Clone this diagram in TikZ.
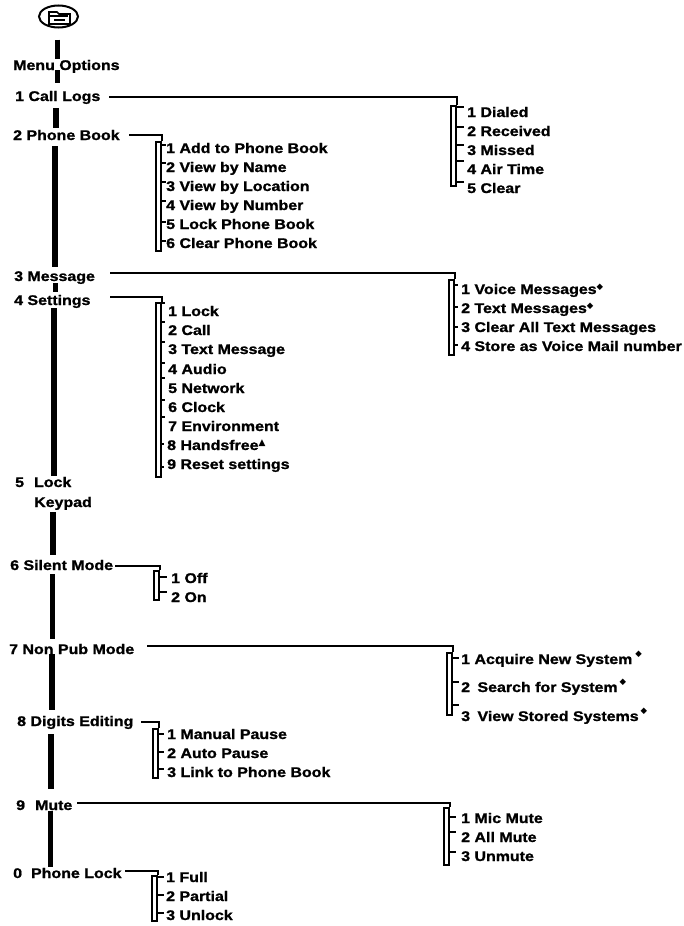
\documentclass[tikz,border=0pt]{standalone}
\usepackage{fontspec}
\usetikzlibrary{shapes.geometric}
\setmainfont{Liberation Sans}[BoldFeatures={FakeStretch=1.14,FakeBold=1.2}]
\newfontfamily\symfont{DejaVu Sans}
\newcommand{\dmark}{\raisebox{5pt}{\symfont\fontsize{8.5}{8.5}\selectfont ◆}}
\newcommand{\tmark}{\raisebox{5pt}{\symfont\fontsize{9}{9}\selectfont ▲}}

\tikzset{
  menuitem/.style={anchor=west, inner sep=0pt, text height=10pt, text depth=0pt,
    font=\bfseries\fontsize{14}{14}\selectfont},
  subbar/.style={draw, fill=white, line width=2pt, anchor=north west, inner sep=0pt, minimum width=5pt},
  spinebar/.style={line width=5.5pt},
  branchline/.style={line width=2pt},
  tickline/.style={line width=1.5pt, shorten >=3pt},
}

\begin{document}
\begin{tikzpicture}[x=1pt, y=-1pt]
  \useasboundingbox (0,0) rectangle (683,926);

  % icon
  \node [draw, ellipse, line width=2pt, minimum width=39pt, minimum height=22pt, inner sep=0pt] (menuicon) at (58.5,16.5) {};
  \draw [line width=1.6pt] (49,24) -- (49,12) -- (57,12) -- (59,14) -- (70,14) -- (70,24) -- cycle;
  \draw [line width=1.2pt] (49,16) -- (68,16);
  \draw [line width=1.4pt] (54,20) -- (65,20);

  % main column
  \node [menuitem] (menu) at (13,65) {Menu Options};
  \node [menuitem] (calllogs) at (15,96) {1 Call Logs};
  \node [menuitem] (phonebook) at (13,135) {2 Phone Book};
  \node [menuitem] (message) at (14,276) {3 Message};
  \node [menuitem] (settings) at (14,300) {4 Settings};
  \node [menuitem] (locklabel) at (15,482) {5\hspace{10pt}Lock};
  \node [menuitem] (keypad) at (34,502) {Keypad};
  \node [menuitem] (silent) at (10,565) {6 Silent Mode};
  \node [menuitem] (nonpub) at (9,649) {7 Non Pub Mode};
  \node [menuitem] (digits) at (17,721) {8 Digits Editing};
  \node [menuitem] (mute) at (16,805) {9\hspace{10pt}Mute};
  \node [menuitem] (phonelock) at (13,873) {0\hspace{9pt}Phone Lock};

  \draw [spinebar] ([xshift=-1,yshift=-11]menuicon.south) -- ([xshift=44.5,yshift=6]menu.west);
  \draw [spinebar] ([xshift=44.5,yshift=-5]menu.west) -- ([xshift=42.5,yshift=13]calllogs.west);
  \draw [spinebar] ([xshift=41,yshift=-12]calllogs.west) -- ([xshift=43,yshift=7]phonebook.west);
  \draw [spinebar] ([xshift=42,yshift=-11]phonebook.west) -- ([xshift=41,yshift=9]message.west);
  \draw [spinebar] ([xshift=41.5,yshift=-7]message.west) -- ([xshift=41.5,yshift=8]settings.west);
  \draw [spinebar] ([xshift=40,yshift=-8]settings.west) -- ([xshift=39,yshift=6]locklabel.west);
  \draw [spinebar] ([xshift=19,yshift=-10]keypad.west) -- ([xshift=43,yshift=10]silent.west);
  \draw [spinebar] ([xshift=42.5,yshift=-9]silent.west) -- ([xshift=43.5,yshift=10]nonpub.west);
  \draw [spinebar] ([xshift=43,yshift=-5]nonpub.west) -- ([xshift=35,yshift=11]digits.west);
  \draw [spinebar] ([xshift=34,yshift=-13]digits.west) -- ([xshift=35,yshift=16]mute.west);
  \draw [spinebar] ([xshift=34.5,yshift=-6]mute.west) -- ([xshift=37.5,yshift=6]phonelock.west);

  % 1 call logs
  \node [subbar, minimum height=80pt] (logsbar) at (450,105) {};
  \node [menuitem] (dialed) at (467,112) {1 Dialed};
  \node [menuitem] (received) at (467,131) {2 Received};
  \node [menuitem] (missed) at (467,150) {3 Missed};
  \node [menuitem] (airtime) at (467,169) {4 Air Time};
  \node [menuitem] (clearlogs) at (467,188) {5 Clear};
  \draw [branchline] ([xshift=94,yshift=-1]calllogs.west) -| (logsbar.north east);
  \draw [tickline] ([yshift=5]dialed.west -| logsbar.east) -- ([yshift=5]dialed.west);
  \draw [tickline] ([yshift=4]received.west -| logsbar.east) -- ([yshift=4]received.west);
  \draw [tickline] ([yshift=5]missed.west -| logsbar.east) -- ([yshift=5]missed.west);
  \draw [tickline] ([yshift=8]airtime.west -| logsbar.east) -- ([yshift=8]airtime.west);
  \draw [tickline] ([yshift=6]clearlogs.west -| logsbar.east) -- ([yshift=6]clearlogs.west);

  % 2 phone book
  \node [subbar, minimum height=109pt] (bookbar) at (155,141) {};
  \node [menuitem] (addbook) at (166,148) {1 Add to Phone Book};
  \node [menuitem] (byname) at (166,167) {2 View by Name};
  \node [menuitem] (bylocation) at (166,186) {3 View by Location};
  \node [menuitem] (bynumber) at (166,205) {4 View by Number};
  \node [menuitem] (lockbook) at (166,224) {5 Lock Phone Book};
  \node [menuitem] (clearbook) at (166,243) {6 Clear Phone Book};
  \draw [branchline] ([xshift=116]phonebook.west) -| (bookbar.north east);
  \draw [tickline, shorten >=0pt] ([yshift=3]addbook.west -| bookbar.east) -- ([yshift=3]addbook.west);
  \draw [tickline, shorten >=0pt] ([yshift=4]byname.west -| bookbar.east) -- ([yshift=4]byname.west);
  \draw [tickline, shorten >=0pt] ([yshift=4]bylocation.west -| bookbar.east) -- ([yshift=4]bylocation.west);
  \draw [tickline, shorten >=0pt] ([yshift=4]bynumber.west -| bookbar.east) -- ([yshift=4]bynumber.west);
  \draw [tickline, shorten >=0pt] ([yshift=2]lockbook.west -| bookbar.east) -- ([yshift=2]lockbook.west);
  \draw [tickline, shorten >=0pt] ([yshift=2]clearbook.west -| bookbar.east) -- ([yshift=2]clearbook.west);

  % 3 message
  \node [subbar, minimum height=75pt] (msgbar) at (448,279) {};
  \node [menuitem] (voicemsg) at (461,289) {1 Voice Messages\dmark};
  \node [menuitem] (textmsg) at (461,308) {2 Text Messages\dmark};
  \node [menuitem] (clearmsg) at (461,327) {3 Clear All Text Messages};
  \node [menuitem] (storemail) at (461,346) {4 Store as Voice Mail number};
  \draw [branchline] ([xshift=96,yshift=3]message.west) -| (msgbar.north east);
  \draw [tickline] ([yshift=4]voicemsg.west -| msgbar.east) -- ([yshift=4]voicemsg.west);
  \draw [tickline] ([yshift=1]textmsg.west -| msgbar.east) -- ([yshift=1]textmsg.west);
  \draw [tickline] (clearmsg.west -| msgbar.east) -- (clearmsg.west);
  \draw [tickline] ([yshift=1]storemail.west -| msgbar.east) -- ([yshift=1]storemail.west);

  % 4 settings
  \node [subbar, minimum height=174pt] (setbar) at (155,302) {};
  \node [menuitem] (setlock) at (168,311) {1 Lock};
  \node [menuitem] (setcall) at (168,330) {2 Call};
  \node [menuitem] (settext) at (168,349) {3 Text Message};
  \node [menuitem] (setaudio) at (168,369) {4 Audio};
  \node [menuitem] (setnet) at (168,388) {5 Network};
  \node [menuitem] (setclock) at (168,407) {6 Clock};
  \node [menuitem] (setenv) at (168,426) {7 Environment};
  \node [menuitem] (sethands) at (167,445) {8 Handsfree\tmark};
  \node [menuitem] (setreset) at (167,464) {9 Reset settings};
  \draw [branchline] ([xshift=96,yshift=3]settings.west) -| (setbar.north east);
  \draw [tickline] ([yshift=8]setlock.west -| setbar.east) -- ([yshift=8]setlock.west);
  \draw [tickline] ([yshift=8]setcall.west -| setbar.east) -- ([yshift=8]setcall.west);
  \draw [tickline] ([yshift=7]settext.west -| setbar.east) -- ([yshift=7]settext.west);
  \draw [tickline] ([yshift=6]setaudio.west -| setbar.east) -- ([yshift=6]setaudio.west);
  \draw [tickline] ([yshift=10]setnet.west -| setbar.east) -- ([yshift=10]setnet.west);
  \draw [tickline] ([yshift=7]setclock.west -| setbar.east) -- ([yshift=7]setclock.west);
  \draw [tickline] ([yshift=9]setenv.west -| setbar.east) -- ([yshift=9]setenv.west);
  \draw [tickline] ([yshift=1]sethands.west -| setbar.east) -- ([yshift=1]sethands.west);
  \draw [tickline] ([yshift=-3]setreset.west -| setbar.east) -- ([yshift=-3]setreset.west);

  % 6 silent mode
  \node [subbar, minimum height=29pt] (silentbar) at (153,570) {};
  \node [menuitem] (silentoff) at (171,578) {1 Off};
  \node [menuitem] (silenton) at (171,597) {2 On};
  \draw [branchline] ([xshift=105,yshift=-1]silent.west) -| (silentbar.north east);
  \draw [tickline, shorten >=4pt] ([yshift=1]silentoff.west -| silentbar.east) -- ([yshift=1]silentoff.west);
  \draw [tickline, shorten >=4pt] ([yshift=5]silenton.west -| silentbar.east) -- ([yshift=5]silenton.west);

  % 7 non pub mode
  \node [subbar, minimum height=62pt] (nonpubbar) at (446,652) {};
  \node [menuitem] (acquire) at (461,659) {1 Acquire New System\hspace{3pt}\raisebox{3pt}{\dmark}};
  \node [menuitem] (searchsys) at (461,687) {2\hspace{3pt} Search for System\hspace{2pt}\raisebox{3pt}{\dmark}};
  \node [menuitem] (viewsys) at (461,716) {3\hspace{3pt} View Stored Systems\hspace{2pt}\raisebox{3pt}{\dmark}};
  \draw [branchline] ([xshift=138,yshift=3]nonpub.west) -| (nonpubbar.north east);
  \draw [tickline, shorten >=2pt] ([yshift=1]acquire.west -| nonpubbar.east) -- ([yshift=1]acquire.west);
  \draw [tickline, shorten >=2pt] ([yshift=5]searchsys.west -| nonpubbar.east) -- ([yshift=5]searchsys.west);
  \draw [tickline, shorten >=2pt] ([yshift=11]viewsys.west -| nonpubbar.east) -- ([yshift=11]viewsys.west);

  % 8 digits editing
  \node [subbar, minimum height=49pt] (digitsbar) at (152,728) {};
  \node [menuitem] (manual) at (167,734) {1 Manual Pause};
  \node [menuitem] (autopause) at (167,753) {2 Auto Pause};
  \node [menuitem] (linkbook) at (167,772) {3 Link to Phone Book};
  \draw [branchline] ([xshift=124,yshift=-1]digits.west) -| (digitsbar.north east);
  \draw [tickline] (manual.west -| digitsbar.east) -- (manual.west);
  \draw [tickline] ([yshift=1]autopause.west -| digitsbar.east) -- ([yshift=1]autopause.west);
  \draw [tickline] ([yshift=3]linkbook.west -| digitsbar.east) -- ([yshift=3]linkbook.west);

  % 9 mute
  \node [subbar, minimum height=57pt] (mutebar) at (443,807) {};
  \node [menuitem] (micmute) at (461,818) {1 Mic Mute};
  \node [menuitem] (allmute) at (461,837) {2 All Mute};
  \node [menuitem] (unmute) at (461,856) {3 Unmute};
  \draw [branchline] ([xshift=61,yshift=2]mute.west) -| (mutebar.north east);
  \draw [tickline, shorten >=5pt] ([yshift=1]micmute.west -| mutebar.east) -- ([yshift=1]micmute.west);
  \draw [tickline, shorten >=5pt] ([yshift=5]allmute.west -| mutebar.east) -- ([yshift=5]allmute.west);
  \draw [tickline, shorten >=5pt] ([yshift=4]unmute.west -| mutebar.east) -- ([yshift=4]unmute.west);

  % 0 phone lock
  \node [subbar, minimum height=45pt] (lockbar) at (151,875) {};
  \node [menuitem] (full) at (166,877) {1 Full};
  \node [menuitem] (partial) at (166,896) {2 Partial};
  \node [menuitem] (unlock) at (166,915) {3 Unlock};
  \draw [branchline] ([xshift=112,yshift=2]phonelock.west) -| (lockbar.north east);
  \draw [tickline, shorten >=2pt] (full.west -| lockbar.east) -- (full.west);
  \draw [tickline, shorten >=2pt] ([yshift=1]partial.west -| lockbar.east) -- ([yshift=1]partial.west);
  \draw [tickline, shorten >=2pt] ([yshift=2]unlock.west -| lockbar.east) -- ([yshift=2]unlock.west);
\end{tikzpicture}
\end{document}
